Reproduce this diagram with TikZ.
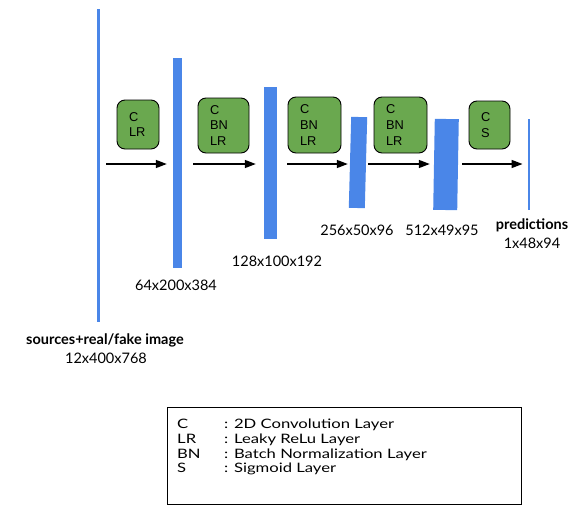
\documentclass[tikz,border=0pt]{standalone}
\usepackage{fontspec}
\setmainfont{Lato}
\newfontfamily\boxfont{Liberation Sans}
\newfontfamily\keyfont[FakeStretch=1.28]{Lato}
\usetikzlibrary{arrows.meta}

\definecolor{barblue}{RGB}{74,134,232}
\definecolor{opgreen}{RGB}{106,168,79}

\begin{document}
\begin{tikzpicture}[x=1pt,y=-1pt,
  bar/.style={fill=barblue, draw=none, inner sep=0, minimum width=#1},
  opbox/.style={fill=opgreen, draw=black, line width=0.9pt, rounded corners=8pt,
    inner xsep=12pt, inner ysep=0, align=left, font=\boxfont\fontsize{12.8}{15.8}\selectfont},
  flow/.style={-{Triangle[length=11pt,width=8pt]}, line width=1.4pt},
  dims/.style={font=\fontsize{14.5}{16}\selectfont, inner sep=0}]
\useasboundingbox (0,0) rectangle (587,509);

% feature maps
\node[bar=3, minimum height=313] (src) at (98.5,165.5) {};
\node[bar=9, minimum height=210] (l1) at (177.5,163) {};
\node[bar=13, minimum height=152] (l2) at (270.5,163) {};
\node[bar=16, minimum height=91, rotate=-1.5] (l3) at (358,162.5) {};
\node[bar=24, minimum height=91, rotate=-1] (l4) at (446,164.5) {};
\node[bar=2.5, minimum height=91] (out) at (529,164.5) {};

% layer blocks
\node[opbox, text width=18pt, minimum height=49] (b1) at (138,124.5) {C\\LR};
\node[opbox, text width=27pt, minimum height=55] (b2) at (223.5,125.5) {C\\BN\\LR};
\node[opbox, text width=29pt, minimum height=56] (b3) at (314.5,125) {C\\BN\\LR};
\node[opbox, text width=29pt, minimum height=56] (b4) at (400.5,125) {C\\BN\\LR};
\node[opbox, text width=17pt, minimum height=48] (b5) at (489.5,125) {C\\S};

% arrows
\draw[flow, shorten <=6pt, shorten >=6pt] (src.east |- 0,164) -- (l1.west |- 0,164);
\draw[flow, shorten <=11pt, shorten >=8pt] (l1.east |- 0,164) -- (l2.west |- 0,164);
\draw[flow, shorten <=10pt, shorten >=2pt] (l2.east |- 0,164) -- (l3.west |- 0,164);
\draw[flow, shorten <=2pt, shorten >=4pt] (l3.east |- 0,164) -- (l4.west |- 0,164);
\draw[flow, shorten <=4pt, shorten >=5pt] (l4.east |- 0,164) -- (out.west |- 0,164);

% sizes
\node[dims] (d1) at (176,285) {64x200x384};
\node[dims] (d2) at (277,261) {128x100x192};
\node[dims] (d3) at (357,230) {256x50x96};
\node[dims] (d4) at (442,230) {512x49x95};
\node[dims, font=\bfseries\fontsize{14.5}{16}\selectfont] (pred) at (532,225) {predictions};
\node[dims] (d5) at (532,243) {1x48x94};
\node[dims, font=\bfseries\fontsize{14.5}{16}\selectfont] (srcname) at (105,340) {sources+real/fake image};
\node[dims] (d0) at (106,358) {12x400x768};

% legend
\node[draw=black, line width=1pt, minimum width=354, minimum height=97, inner sep=0] (legend) at (344,455.5) {};
\node[anchor=west, inner sep=0, font=\keyfont\fontsize{13}{14.7}\selectfont] (key) at (177,448)
  {\begin{tabular}{@{}p{47pt}@{}l@{}}
   C & : 2D Convolution Layer\\
   LR & : Leaky ReLu Layer\\
   BN & : Batch Normalization Layer\\
   S & : Sigmoid Layer
   \end{tabular}};
\end{tikzpicture}
\end{document}
